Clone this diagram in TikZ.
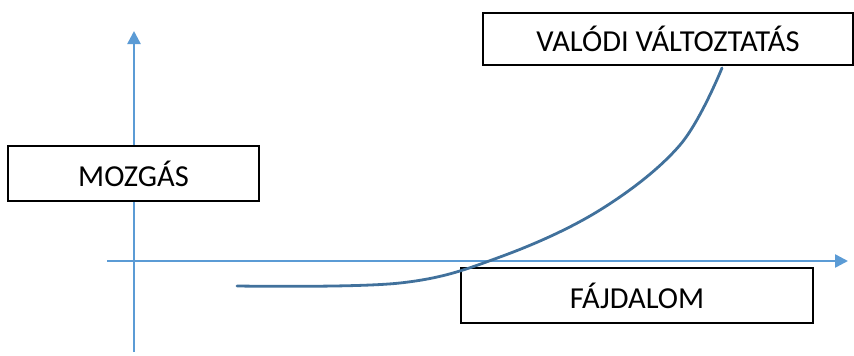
\documentclass[tikz,border=0pt]{standalone}
\usepackage{fontspec}
\setmainfont{Carlito}
\usetikzlibrary{arrows.meta}
\definecolor{axisblue}{HTML}{5B9BD5}
\definecolor{curveblue}{HTML}{41719C}
\tikzset{
  axisline/.style={draw=axisblue, line width=2.5pt,
    -{Triangle[length=13pt,width=13pt]}},
  labelbox/.style={draw=black, fill=white, line width=1.8pt, rectangle,
    inner sep=0pt, font=\fontsize{30.5}{36}\selectfont},
  growth/.style={draw=curveblue, line width=2.8pt, line cap=round}
}
\begin{document}
\begin{tikzpicture}[x=1pt, y=-1pt]
  \useasboundingbox (0,0) rectangle (854,356);
  % axes
  \coordinate (ybottom) at (134,352);
  \coordinate (ytop) at (134,31);
  \coordinate (xleft) at (107,261);
  \coordinate (xright) at (848,261);
  \draw[axisline] (ybottom) -- (ytop);
  \draw[axisline] (xleft) -- (xright);
  % labels
  \node[labelbox, minimum width=251pt, minimum height=55pt] (mozgas) at (133.5,173.5) {MOZGÁS};
  \node[labelbox, minimum width=370pt, minimum height=52pt] (valodi) at (668,39) {VALÓDI VÁLTOZTATÁS};
  \node[labelbox, minimum width=352pt, minimum height=55pt] (fajdalom) at (637,295.5) {FÁJDALOM};
  % growth curve
  \coordinate (cstart) at (237,286);
  \coordinate (cend) at (722,68);
  \draw[growth] plot[smooth, tension=0.6] coordinates {(cstart) (400,283) (500,257) (600,210) (680,145) (cend)};
\end{tikzpicture}
\end{document}
